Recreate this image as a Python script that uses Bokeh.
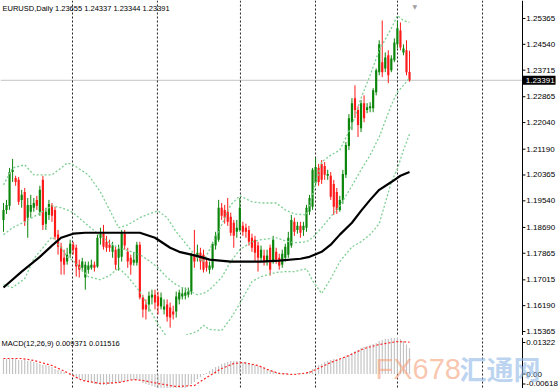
from bokeh.plotting import figure
from bokeh.layouts import column
from bokeh.models import Range1d, Span, Label, ColumnDataSource
from bokeh.core.properties import value
from bokeh.embed import file_html
from bokeh.resources import INLINE

# ---------------- data (EURUSD daily) ----------------
opens = [1.1893, 1.1925, 1.1938, 1.2046, 1.2027, 1.2021, 1.1957, 1.1982, 1.1900, 1.1919,
         1.1932, 1.1957, 1.1919, 1.2021, 1.1881, 1.1909, 1.1941, 1.1925, 1.1846, 1.1807,
         1.1772, 1.1760, 1.1785, 1.1814, 1.1804, 1.1750, 1.1740, 1.1709, 1.1734, 1.1740,
         1.1750, 1.1744, 1.1836, 1.1852, 1.1823, 1.1814, 1.1791, 1.1798, 1.1772, 1.1775,
         1.1849, 1.1791, 1.1772, 1.1756, 1.1756, 1.1814, 1.1645, 1.1623, 1.1623, 1.1645,
         1.1654, 1.1648, 1.1616, 1.1607, 1.1623, 1.1613, 1.1600, 1.1600, 1.1639, 1.1648,
         1.1651, 1.1654, 1.1664, 1.1782, 1.1772, 1.1788, 1.1782, 1.1760, 1.1734, 1.1740,
         1.1811, 1.1830, 1.1932, 1.1925, 1.1919, 1.1903, 1.1884, 1.1855, 1.1861, 1.1874,
         1.1868, 1.1861, 1.1836, 1.1830, 1.1811, 1.1772, 1.1779, 1.1760, 1.1804, 1.1760,
         1.1791, 1.1772, 1.1750, 1.1772, 1.1782, 1.1811, 1.1887, 1.1861, 1.1874, 1.1861,
         1.1868, 1.1919, 1.1935, 1.2011, 1.2059, 1.2072, 1.2065, 1.2034, 1.2034, 1.2008,
         1.1982, 1.1925, 1.1957, 1.2037, 1.2129, 1.2205, 1.2282, 1.2244, 1.2186, 1.2266,
         1.2244, 1.2250, 1.2250, 1.2301, 1.2365, 1.2397, 1.2377, 1.2419, 1.2371, 1.2403,
         1.2454, 1.2498, 1.2428, 1.2435, 1.23655]
highs = [1.1947, 1.1957, 1.2059, 1.2088, 1.2034, 1.2030, 1.1989, 1.1995, 1.1963, 1.1973,
         1.1963, 1.1970, 1.2002, 1.2034, 1.1932, 1.1957, 1.1947, 1.1935, 1.1861, 1.1820,
         1.1798, 1.1804, 1.1830, 1.1823, 1.1814, 1.1766, 1.1772, 1.1760, 1.1760, 1.1766,
         1.1760, 1.1846, 1.1868, 1.1877, 1.1842, 1.1830, 1.1823, 1.1807, 1.1814, 1.1861,
         1.1861, 1.1804, 1.1782, 1.1791, 1.1823, 1.1823, 1.1654, 1.1639, 1.1664, 1.1670,
         1.1670, 1.1664, 1.1661, 1.1639, 1.1639, 1.1629, 1.1619, 1.1664, 1.1670, 1.1677,
         1.1677, 1.1677, 1.1788, 1.1861, 1.1814, 1.1804, 1.1798, 1.1772, 1.1760, 1.1823,
         1.1855, 1.1957, 1.1947, 1.1941, 1.1963, 1.1916, 1.1893, 1.1893, 1.1963, 1.1887,
         1.1881, 1.1874, 1.1849, 1.1842, 1.1823, 1.1811, 1.1798, 1.1798, 1.1814, 1.1842,
         1.1804, 1.1785, 1.1798, 1.1817, 1.1855, 1.1909, 1.1900, 1.1887, 1.1887, 1.1887,
         1.1941, 1.1973, 1.2059, 1.2091, 1.2072, 1.2084, 1.2078, 1.2053, 1.2046, 1.2021,
         1.1995, 1.1970, 1.2053, 1.2142, 1.2231, 1.2282, 1.2323, 1.2256, 1.2276, 1.2291,
         1.2266, 1.2269, 1.2314, 1.2377, 1.2467, 1.2530, 1.2428, 1.2435, 1.2419, 1.2473,
         1.2530, 1.2524, 1.2454, 1.2467, 1.24337]
lows = [1.1855, 1.1912, 1.1925, 1.2014, 1.2002, 1.1941, 1.1932, 1.1874, 1.1836, 1.1900,
        1.1919, 1.1925, 1.1906, 1.1861, 1.1861, 1.1893, 1.1887, 1.1830, 1.1782, 1.1718,
        1.1718, 1.1750, 1.1772, 1.1782, 1.1712, 1.1709, 1.1728, 1.1670, 1.1721, 1.1734,
        1.1728, 1.1740, 1.1814, 1.1798, 1.1791, 1.1791, 1.1772, 1.1734, 1.1731, 1.1760,
        1.1798, 1.1740, 1.1718, 1.1747, 1.1747, 1.1639, 1.1581, 1.1575, 1.1600, 1.1623,
        1.1607, 1.1591, 1.1607, 1.1591, 1.1568, 1.1549, 1.1575, 1.1581, 1.1623, 1.1639,
        1.1639, 1.1645, 1.1654, 1.1740, 1.1760, 1.1734, 1.1725, 1.1728, 1.1721, 1.1734,
        1.1798, 1.1823, 1.1893, 1.1881, 1.1874, 1.1842, 1.1804, 1.1836, 1.1855, 1.1842,
        1.1836, 1.1811, 1.1791, 1.1760, 1.1728, 1.1760, 1.1747, 1.1747, 1.1715, 1.1753,
        1.1753, 1.1734, 1.1740, 1.1760, 1.1772, 1.1804, 1.1842, 1.1849, 1.1836, 1.1842,
        1.1855, 1.1909, 1.1925, 1.2002, 1.2002, 1.2008, 1.2021, 1.2021, 1.1957, 1.1909,
        1.1912, 1.1919, 1.1944, 1.2027, 1.2116, 1.2180, 1.2218, 1.2158, 1.2174, 1.2205,
        1.2234, 1.2237, 1.2237, 1.2291, 1.2355, 1.2349, 1.2365, 1.2330, 1.2365, 1.2397,
        1.2441, 1.2435, 1.2419, 1.2355, 1.23344]
closes = [1.1925, 1.1941, 1.2046, 1.2053, 1.2014, 1.1951, 1.1973, 1.1887, 1.1941, 1.1941,
          1.1947, 1.1938, 1.1989, 1.1877, 1.1919, 1.1944, 1.1906, 1.1839, 1.1807, 1.1760,
          1.1750, 1.1782, 1.1817, 1.1798, 1.1744, 1.1734, 1.1760, 1.1750, 1.1747, 1.1750,
          1.1740, 1.1836, 1.1849, 1.1807, 1.1804, 1.1804, 1.1811, 1.1750, 1.1801, 1.1852,
          1.1811, 1.1760, 1.1750, 1.1766, 1.1814, 1.1645, 1.1607, 1.1607, 1.1651, 1.1654,
          1.1629, 1.1619, 1.1645, 1.1616, 1.1584, 1.1581, 1.1591, 1.1648, 1.1661, 1.1658,
          1.1661, 1.1664, 1.1782, 1.1760, 1.1788, 1.1760, 1.1734, 1.1740, 1.1747, 1.1817,
          1.1842, 1.1932, 1.1906, 1.1900, 1.1887, 1.1852, 1.1842, 1.1868, 1.1932, 1.1855,
          1.1855, 1.1823, 1.1804, 1.1788, 1.1772, 1.1798, 1.1760, 1.1779, 1.1734, 1.1830,
          1.1766, 1.1747, 1.1785, 1.1807, 1.1836, 1.1893, 1.1855, 1.1874, 1.1852, 1.1874,
          1.1932, 1.1963, 1.2053, 1.2062, 1.2014, 1.2021, 1.2037, 1.2040, 1.1967, 1.1935,
          1.1925, 1.1957, 1.2040, 1.2132, 1.2218, 1.2266, 1.2244, 1.2196, 1.2266, 1.2218,
          1.2253, 1.2256, 1.2307, 1.2371, 1.2454, 1.2365, 1.2412, 1.2355, 1.2409, 1.2460,
          1.2505, 1.2444, 1.2441, 1.2365, 1.23391]

# Bollinger bands (20, 2) read at sample bars
bb_bars = [0, 3, 7, 10, 16, 19, 21, 23, 28, 32, 35, 38, 41, 45, 48, 51, 54, 57, 61, 64, 66, 68,
           72, 75, 78, 82, 85, 90, 93, 96, 100, 102, 105, 108, 111, 115, 118, 121, 124, 128, 130, 132, 134]
bb_upper = [1.2005, 1.2059, 1.2069, 1.2037, 1.2037, 1.2059, 1.2075, 1.2069, 1.2037, 1.1982, 1.1925,
            1.1868, 1.1877, 1.1900, 1.1912, 1.1922, 1.1900, 1.1855, 1.1807, 1.1772, 1.1760, 1.1798,
            1.1877, 1.1941, 1.1970, 1.1951, 1.1947, 1.1947, 1.1925, 1.1912, 1.1909, 1.1973, 1.2078,
            1.2100, 1.2116, 1.2196, 1.2282, 1.2355, 1.2435, 1.2505, 1.2546, 1.2530, 1.2524]
bb_middle = [1.1846, 1.1868, 1.1887, 1.1903, 1.1938, 1.1932, 1.1925, 1.1916, 1.1874, 1.1842, 1.1820,
             1.1804, 1.1795, 1.1782, 1.1763, 1.1740, 1.1709, 1.1686, 1.1667, 1.1654, 1.1658, 1.1670,
             1.1709, 1.1760, 1.1798, 1.1823, 1.1830, 1.1836, 1.1826, 1.1820, 1.1823, 1.1836, 1.1868,
             1.1903, 1.1938, 1.2002, 1.2053, 1.2100, 1.2158, 1.2260, 1.2301, 1.2323, 1.2346]
bb_lower = [1.1686, 1.1677, 1.1705, 1.1769, 1.1839, 1.1804, 1.1775, 1.1763, 1.1712, 1.1702, 1.1715,
            1.1740, 1.1712, 1.1664, 1.1613, 1.1559, 1.1518, 1.1518, 1.1527, 1.1537, 1.1556, 1.1543,
            1.1540, 1.1578, 1.1626, 1.1696, 1.1712, 1.1725, 1.1728, 1.1728, 1.1737, 1.1699, 1.1658,
            1.1705, 1.1760, 1.1807, 1.1823, 1.1846, 1.1881, 1.2014, 1.2056, 1.2116, 1.2167]

# long moving average (black)
ma_bars = [0, 6, 12, 16, 19, 23, 27, 45, 50, 55, 58, 62, 65, 68, 75, 85, 91, 98, 101, 105, 108,
           111, 115, 118, 121, 124, 128, 131, 134]
ma_vals = [1.1677, 1.1728, 1.1775, 1.1811, 1.1836, 1.1849, 1.1852, 1.1852, 1.1836, 1.1804, 1.1791,
           1.1782, 1.1775, 1.1766, 1.1760, 1.1760, 1.1763, 1.1769, 1.1775, 1.1791, 1.1814, 1.1846,
           1.1884, 1.1922, 1.1957, 1.1989, 1.2014, 1.2034, 1.2046]

# MACD(12,26,9)
macd_main = [0.00543, 0.00543, 0.00543, 0.00543, 0.00543, 0.00507, 0.00507,
             0.00507, 0.00471, 0.00471, 0.00435,
             0.00398, 0.00362, 0.00326, 0.00326, 0.00290, 0.00254,
             0.00181, 0.00145, 0.00109, 0.00072, 0.0,
             -0.00036, -0.00072, -0.00145, -0.00181, -0.00217, -0.00254,
             -0.00290, -0.00326, -0.00362, -0.00362, -0.00398,
             -0.00398, -0.00398, -0.00362, -0.00362, -0.00326, -0.00326,
             -0.00290, -0.00254, -0.00254, -0.00217, -0.00217,
             -0.00217, -0.00254, -0.00326, -0.00362,
             -0.00398, -0.00435, -0.00471, -0.00507, -0.00507, -0.00543, -0.00580,
             -0.00580, -0.00618, -0.00580, -0.00580, -0.00543, -0.00507, -0.00435,
             -0.00362, -0.00290, -0.00181, -0.00109,
             -0.00036, 0.00036, 0.00109, 0.00181,
             0.00254, 0.00290, 0.00362, 0.00398, 0.00435, 0.00471, 0.00471,
             0.00471, 0.00471, 0.00435, 0.00435,
             0.00398, 0.00362, 0.00326, 0.00290, 0.00254, 0.00217, 0.00181, 0.00145, 0.00109,
             0.00072, 0.00072, 0.00036, 0.00036, -0.00018, -0.00018, 0.00018, 0.00036, 0.00036, 0.00036, 0.00072,
             0.00109, 0.00181, 0.00254, 0.00326, 0.00362, 0.00435, 0.00471, 0.00507,
             0.00543, 0.00543, 0.00543, 0.00580, 0.00616, 0.00688, 0.00761, 0.00833, 0.00869, 0.00942, 0.00978,
             0.01014, 0.01050, 0.01087, 0.01123, 0.01195, 0.01231, 0.01268, 0.01268, 0.01304, 0.01304,
             0.01322, 0.01268, 0.01195, 0.01068, 0.009371]
signal_bars = [0, 6, 10, 16, 21, 26, 32, 38, 43, 46, 51, 57, 63, 67, 72, 76, 79, 84, 88, 91, 96,
               101, 108, 114, 119, 124, 130, 134]
signal_vals = [0.00561, 0.00561, 0.00489, 0.00308, 0.00054, -0.00235, -0.00344, -0.00308, -0.00199,
               -0.00235, -0.00344, -0.00453, -0.00417, -0.00127, 0.00199, 0.00380, 0.00417, 0.00308,
               0.00127, 0.00018, -0.00018, 0.00054, 0.00417, 0.00670, 0.00924, 0.01068, 0.01177, 0.011516]

price_ticks = [1.25365, 1.24540, 1.23715, 1.22865, 1.22040, 1.21190, 1.20365,
               1.19540, 1.18690, 1.17865, 1.17015, 1.16190, 1.15365]
price_tick_labels = ["1.25365", "1.24540", "1.23715", "1.22865", "1.22040", "1.21190", "1.20365",
                     "1.19540", "1.18690", "1.17865", "1.17015", "1.16190", "1.15365"]
# MT4 prints the sub-window max / min labels just inside the window edges
macd_tick_pos = [0.01141, 0.0, -0.00362]
macd_tick_labels = ["0.01322", "0.00", "-0.00618"]
grid_bars = [22.77, 50.8, 78.2, 102.97, 130.03, 158.1]

title_text = "EURUSD,Daily  1.23655 1.24337 1.23344 1.23391"
macd_text = "MACD(12,26,9) 0.009371 0.011516"
last_price_text = "1.23391"

# ---------------- drawing ----------------
GREEN = "#0b860b"
RED = "#ff1a1a"
FONT = "Liberation Sans"
AXIS_X = 171.29      # bar coordinate of the price-scale line (x = 522 px)
LABEL_X = 172.55
TICK_END = 172.25

n = len(closes)
idx = list(range(n))
colors = [GREEN if c >= o else RED for o, c in zip(opens, closes)]
src = ColumnDataSource(dict(
    x=idx, h=highs, l=lows,
    top=[max(o, c) for o, c in zip(opens, closes)],
    bot=[min(o, c) for o, c in zip(opens, closes)],
    color=colors))

xr = Range1d(-0.99, 183.17)

def base_fig(h, yr):
    f = figure(frame_width=558, frame_height=h, x_range=xr, y_range=yr,
               output_backend="svg", toolbar_location=None, x_axis_type=None, y_axis_type=None,
               min_border_left=0, min_border_top=0, min_border_bottom=0, min_border_right=0,
               outline_line_color=None)
    for g in grid_bars:
        f.add_layout(Span(location=g, dimension="height", line_color="#222222",
                          line_dash="2 2", line_width=1, level="underlay"))
    f.add_layout(Span(location=AXIS_X, dimension="height", line_color="black", line_width=1))
    return f

# ---- price window ----
p1 = base_fig(335, Range1d(1.15237, 1.25940))
p1.segment(x0=-0.99, y0=closes[-1], x1=AXIS_X, y1=closes[-1], line_color="#c4c4c4", line_width=1,
           level="underlay")

p1.segment(x0="x", y0="l", x1="x", y1="h", line_color="color", line_width=1, source=src)
p1.vbar(x="x", width=0.72, top="top", bottom="bot", fill_color="color", line_color=None, source=src)

BB = "#7fcf92"
p1.line(bb_bars, bb_upper, line_color=BB, line_dash="2 2", line_width=1.3)
p1.line(bb_bars, bb_middle, line_color=BB, line_dash="2 2", line_width=1.3)
p1.line(bb_bars, bb_lower, line_color=BB, line_dash="2 2", line_width=1.3)
p1.line(ma_bars, ma_vals, line_color="black", line_width=2.2)

# price scale
p1.segment(x0=AXIS_X, x1=TICK_END, y0=price_ticks, y1=price_ticks, line_color="black", line_width=1)
p1.text(x=LABEL_X, y=price_ticks, text=price_tick_labels, text_font=value(FONT),
        text_font_size=value("8px"), text_baseline="middle", text_align="left", text_color="black")
# last price box
p1.quad(left=AXIS_X + 0.1, right=182.2, top=closes[-1] + 0.00146, bottom=closes[-1] - 0.00146,
        fill_color="black", line_color=None)
p1.text(x=LABEL_X - 0.2, y=[closes[-1]], text=[last_price_text], text_font=value(FONT),
        text_font_size=value("8px"), text_baseline="middle", text_align="left", text_color="white")

p1.add_layout(Label(x=2, y=327, x_units="screen", y_units="screen", text=title_text, text_font=FONT,
                    text_font_size="7.5px", text_baseline="middle", text_color="black"))
p1.add_layout(Label(x=412, y=329, x_units="screen", y_units="screen", text="\u25BC",
                    text_font="DejaVu Sans", text_font_size="6px", text_baseline="middle",
                    text_color="#a0a0a0"))

# ---- separator ----
sep = figure(width=558, height=2, output_backend="svg", toolbar_location=None,
             x_axis_type=None, y_axis_type=None, min_border=0,
             background_fill_color="#8c8c8c", border_fill_color="#8c8c8c", outline_line_color=None)

# ---- MACD window ----
p2 = base_fig(51, Range1d(-0.00525, 0.01322))
p2.vbar(x=idx, width=0.38, top=macd_main, bottom=0, fill_color="#c2c2c2", line_color=None)
p2.line(signal_bars, signal_vals, line_color="#ff2020", line_dash="2 2", line_width=1.2)

p2.segment(x0=AXIS_X, x1=TICK_END, y0=macd_tick_pos, y1=macd_tick_pos, line_color="black", line_width=1)
p2.text(x=LABEL_X, y=macd_tick_pos, text=macd_tick_labels, text_font=value(FONT),
        text_font_size=value("8px"), text_baseline="middle", text_align="left", text_color="black")

p2.add_layout(Label(x=1, y=45, x_units="screen", y_units="screen", text=macd_text, text_font=FONT,
                    text_font_size="7.5px", text_baseline="middle", text_color="black"))
# watermark
p2.add_layout(Label(x=375, y=20, x_units="screen", y_units="screen", text="FX678", text_font=FONT,
                    text_font_size="29px", text_color="#f59f7a", text_alpha=0.6,
                    text_baseline="alphabetic"))
p2.add_layout(Label(x=459, y=20, x_units="screen", y_units="screen", text="汇通网",
                    text_font="Noto Sans CJK SC", text_font_size="27px", text_font_style="bold",
                    text_color="#8fb8e6", text_alpha=0.6, text_baseline="alphabetic"))

layout = column(p1, sep, p2, spacing=0)
open("out.html", "w").write(file_html(layout, INLINE))
